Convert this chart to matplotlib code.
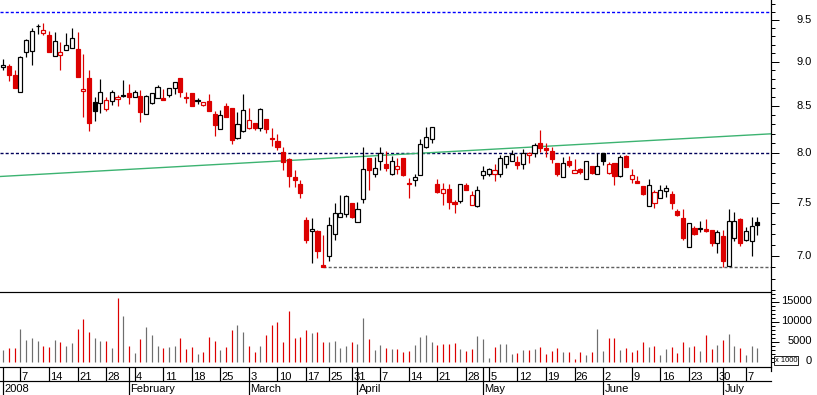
import numpy as np
import pandas as pd
import matplotlib
matplotlib.use("Agg")
import matplotlib.pyplot as plt
from matplotlib.ticker import FixedLocator, NullFormatter
from matplotlib.transforms import blended_transform_factory

plt.rcParams['font.family'] = ['Liberation Sans', 'DejaVu Sans']
plt.rcParams['lines.scale_dashes'] = False

# ---------------- data ----------------
start_date = '2008-01-02'
end_date = '2008-07-09'
holidays = ['2008-03-21', '2008-03-24', '2008-05-01']

opens = [8.94, 8.95, 8.85, 8.66, 9.12, 9.13, 9.43, 9.34, 9.32, 9.065,
         9.08, 9.135, 9.16, 9.15, 8.665, 8.81, 8.54, 8.53, 8.465, 8.55,
         8.575, 8.62, 8.64, 8.60, 8.61, 8.41, 8.53, 8.585, 8.59, 8.625,
         8.70, 8.81, 8.605, 8.645, 8.56, 8.51, 8.555, 8.41, 8.255, 8.50,
         8.475, 8.155, 8.225, 8.265, 8.315, 8.26, 8.36, 8.16, 8.12, 8.005,
         7.94, 7.75, 7.685, 7.335, 7.23, 7.235, 6.92, 7.00, 7.20, 7.36,
         7.39, 7.50, 7.32, 7.535, 7.95, 7.785, 7.92, 7.885, 7.785, 7.84,
         7.95, 7.70, 7.72, 7.77, 8.065, 8.145, 7.69, 7.595, 7.64, 7.51,
         7.52, 7.68, 7.475, 7.465, 7.78, 7.79, 7.79, 7.79, 7.885, 7.92,
         7.905, 7.885, 7.975, 8.00, 8.10, 8.05, 8.015, 7.90, 7.75, 7.915,
         7.80, 7.835, 7.73, 7.865, 7.785, 8.00, 7.80, 7.90, 7.76, 7.97,
         7.73, 7.71, 7.665, 7.47, 7.495, 7.545, 7.62, 7.585, 7.42, 7.355,
         7.08, 7.26, 7.255, 7.25, 7.24, 7.125, 7.185, 6.915, 7.165, 7.345,
         7.145, 7.14, 7.315]
highs = [9.03, 8.98, 8.91, 9.07, 9.27, 9.40, 9.45, 9.46, 9.36, 9.355,
         9.23, 9.34, 9.40, 9.35, 9.09, 8.90, 8.60, 8.80, 8.60, 8.68,
         8.62, 8.79, 8.75, 8.68, 8.68, 8.62, 8.64, 8.735, 8.69, 8.70,
         8.765, 8.815, 8.65, 8.645, 8.585, 8.545, 8.63, 8.44, 8.455, 8.53,
         8.475, 8.435, 8.63, 8.475, 8.315, 8.475, 8.36, 8.26, 8.20, 8.06,
         7.945, 7.825, 7.725, 7.36, 7.35, 7.24, 7.195, 7.36, 7.495, 7.575,
         7.58, 7.50, 7.51, 8.06, 7.95, 7.955, 8.06, 8.02, 7.97, 7.945,
         7.95, 7.74, 7.785, 8.15, 8.275, 8.275, 7.73, 7.70, 7.685, 7.53,
         7.69, 7.70, 7.615, 7.665, 7.865, 7.845, 7.885, 7.98, 7.97, 8.03,
         7.97, 8.04, 8.01, 8.10, 8.24, 8.10, 8.065, 7.90, 7.955, 7.97,
         7.94, 7.845, 7.92, 7.865, 8.00, 8.00, 7.91, 7.90, 7.98, 7.98,
         7.84, 7.76, 7.665, 7.73, 7.625, 7.675, 7.68, 7.615, 7.445, 7.44,
         7.31, 7.28, 7.325, 7.345, 7.24, 7.24, 7.24, 7.44, 7.415, 7.35,
         7.27, 7.36, 7.36]
lows = [8.90, 8.78, 8.70, 8.65, 9.06, 8.96, 9.33, 9.32, 9.12, 9.065,
        8.90, 9.135, 9.16, 8.82, 8.385, 8.235, 8.34, 8.42, 8.44, 8.51,
        8.50, 8.60, 8.52, 8.595, 8.33, 8.41, 8.52, 8.585, 8.565, 8.60,
        8.635, 8.60, 8.53, 8.50, 8.52, 8.505, 8.45, 8.18, 8.255, 8.385,
        8.09, 8.15, 8.22, 8.25, 8.24, 8.23, 8.205, 8.075, 8.03, 7.825,
        7.66, 7.66, 7.55, 7.125, 6.94, 6.98, 6.90, 6.96, 7.145, 7.36,
        7.36, 7.355, 7.32, 7.50, 7.625, 7.75, 7.825, 7.82, 7.78, 7.785,
        7.765, 7.55, 7.67, 7.77, 8.05, 8.10, 7.595, 7.48, 7.445, 7.405,
        7.50, 7.625, 7.475, 7.46, 7.73, 7.76, 7.71, 7.75, 7.85, 7.92,
        7.835, 7.84, 7.90, 7.96, 8.01, 7.96, 7.90, 7.76, 7.75, 7.86,
        7.80, 7.79, 7.73, 7.79, 7.785, 7.875, 7.785, 7.68, 7.75, 7.86,
        7.70, 7.70, 7.58, 7.47, 7.455, 7.545, 7.555, 7.445, 7.375, 7.15,
        7.08, 7.195, 7.225, 7.225, 7.09, 7.025, 6.905, 6.915, 7.135, 7.09,
        7.135, 7.005, 7.195]
closes = [8.96, 8.85, 8.70, 9.06, 9.26, 9.37, 9.42, 9.375, 9.12, 9.24,
          9.11, 9.195, 9.28, 8.82, 8.685, 8.32, 8.45, 8.65, 8.565, 8.65,
          8.60, 8.61, 8.60, 8.65, 8.43, 8.61, 8.64, 8.71, 8.57, 8.695,
          8.765, 8.65, 8.59, 8.505, 8.57, 8.545, 8.45, 8.295, 8.40, 8.385,
          8.13, 8.305, 8.455, 8.35, 8.26, 8.47, 8.25, 8.145, 8.065, 7.905,
          7.765, 7.725, 7.595, 7.145, 7.25, 7.05, 6.90, 7.285, 7.40, 7.405,
          7.565, 7.36, 7.445, 7.84, 7.83, 7.845, 8.00, 7.85, 7.915, 7.865,
          7.77, 7.685, 7.75, 8.09, 8.17, 8.27, 7.61, 7.635, 7.51, 7.485,
          7.69, 7.625, 7.575, 7.63, 7.82, 7.84, 7.83, 7.95, 7.97, 7.985,
          7.875, 8.00, 7.995, 8.085, 8.055, 8.03, 7.94, 7.79, 7.90, 7.875,
          7.825, 7.81, 7.915, 7.80, 7.865, 7.92, 7.885, 7.76, 7.96, 7.86,
          7.78, 7.70, 7.585, 7.68, 7.605, 7.625, 7.645, 7.50, 7.385, 7.17,
          7.305, 7.20, 7.265, 7.235, 7.12, 7.22, 6.96, 7.325, 7.33, 7.12,
          7.235, 7.28, 7.285]
# volume in thousands
volumes = [2800, 3300, 3300, 8100, 5300, 5800, 5200, 3800, 3600, 5300,
           4800, 3800, 4600, 8100, 10600, 7400, 5800, 5200, 5100, 3300,
           15800, 11300, 3800, 2100, 5600, 8600, 6600, 3800, 3300, 3600,
           3800, 5800, 3100, 3600, 1800, 2500, 6100, 5100, 2800, 3600,
           7800, 9100, 7400, 3800, 2300, 3800, 6600, 9100, 9800, 4800,
           12600, 5800, 6100, 7800, 7100, 7400, 4800, 4800, 5100, 3300,
           3800, 4800, 4300, 10800, 5600, 2800, 4100, 3300, 3100, 3100,
           2300, 2600, 4100, 6100, 6600, 4800, 4100, 4300, 4300, 4600,
           3100, 2600, 3100, 6300, 5600, 800, 3600, 4300, 4300, 1800,
           2100, 2800, 2800, 3100, 3600, 1800, 2600, 3300, 2300, 2300,
           600, 2300, 1600, 2300, 8100, 2600, 5800, 5800, 2800, 3300,
           2300, 2800, 4800, 3600, 3800, 1600, 3100, 3600, 2100, 4800,
           3600, 3800, 2600, 6600, 3100, 4100, 5300, 6800, 3800, 3300,
           1600, 3800, 3300]
# 1 = closed below previous close (red), 0 = otherwise
down_day = [0, 1, 1, 0, 0, 0, 0, 1, 1, 0, 1, 0, 0, 1, 1, 1, 0, 0, 1, 0,
            1, 0, 1, 0, 1, 0, 0, 0, 1, 0, 0, 1, 1, 1, 0, 1, 1, 1, 0, 1,
            1, 0, 0, 1, 1, 0, 1, 1, 1, 1, 1, 1, 1, 1, 0, 1, 1, 0, 0, 0,
            0, 1, 0, 0, 1, 0, 0, 1, 0, 1, 1, 1, 0, 0, 0, 0, 1, 1, 1, 1,
            0, 1, 1, 0, 0, 0, 1, 0, 0, 0, 1, 0, 1, 0, 1, 1, 1, 1, 0, 1,
            1, 1, 0, 1, 0, 0, 1, 1, 0, 1, 1, 1, 1, 0, 1, 0, 0, 1, 1, 1,
            0, 1, 0, 1, 1, 0, 1, 0, 0, 1, 0, 0, 0]

resistance_level = 9.60
reference_level = 8.00
support_level = 6.90
trend_start, trend_end = 7.76, 8.20

price_ticks = [7.0, 7.5, 8.0, 8.5, 9.0, 9.5]
price_labels = ['7.0', '7.5', '8.0', '8.5', '9.0', '9.5']
vol_ticks = [0, 5000, 10000, 15000]
vol_labels = ['0', '5000', '10000', '15000']
month_names = ['2008', 'February', 'March', 'April', 'May', 'June', 'July']

# ---------------- derived ----------------
dates = pd.bdate_range(start_date, end_date, freq='C', holidays=holidays)
n = len(opens)
dates = dates[:n]
x = np.arange(n)
o = np.array(opens); h = np.array(highs); l = np.array(lows); c = np.array(closes)
down = np.array(down_day, dtype=bool)

RED = '#dc0000'
GREY = '#6e6e6e'
PX = 0.72  # one pixel in points
LW = PX * 1.2

W, H = 817, 395
fig = plt.figure(figsize=(W / 100, H / 100), dpi=100)
right = 771 / W
ax_d = fig.add_axes([0, 0, right, 28 / H])
ax_v = fig.add_axes([0, (H - 367) / H, right, 75 / H])
ax_p = fig.add_axes([0, (H - 292) / H, right, 292 / H])
for a in (ax_d, ax_v, ax_p):
    a.patch.set_visible(False)

xlim = (-0.578, 134.4)

# ---- price panel ----
ax_p.set_yscale('log')
ax_p.set_xlim(*xlim)
ax_p.set_ylim(6.684, 9.748)

ax_p.axhline(resistance_level, color='#0000ff', lw=1.0, dashes=(2.2, 1.5), zorder=1)
ax_p.axhline(reference_level, color='#00005a', lw=1.0, dashes=(2.2, 1.5), zorder=1)
low_idx = int(np.argmin(l))
ax_p.hlines(support_level, low_idx, xlim[1], color='#606060', lw=1.0,
            linestyles=(0, (2.2, 1.5)), zorder=1)
ax_p.plot([xlim[0], xlim[1]], [trend_start, trend_end], color='#3cb371', lw=1.0, zorder=1)

cols = np.where(down, RED, 'black')
ax_p.vlines(x, l, h, colors=cols, lw=LW, zorder=2)
bottoms = np.minimum(o, c)
heights = np.maximum(np.abs(c - o), 0.004)
faces = [cc if cl < op else 'white' for cc, cl, op in zip(cols, c, o)]
ax_p.bar(x, heights, bottom=bottoms, width=0.72, color=faces, edgecolor=cols,
         linewidth=LW, zorder=3)

ax_p.set_xticks([])
ax_p.yaxis.set_major_locator(FixedLocator(price_ticks))
ax_p.yaxis.set_minor_locator(FixedLocator(np.round(np.arange(6.7, 9.75, 0.1), 1)))
ax_p.yaxis.set_major_formatter(NullFormatter())
ax_p.yaxis.set_minor_formatter(NullFormatter())
ax_p.yaxis.tick_right()
ax_p.tick_params(axis='y', which='major', length=8 * PX, width=PX, direction='out')
ax_p.tick_params(axis='y', which='minor', length=4 * PX, width=PX, direction='out')
for s in ['left', 'top']:
    ax_p.spines[s].set_visible(False)
for s in ['right', 'bottom']:
    ax_p.spines[s].set_linewidth(LW)
    ax_p.spines[s].set_zorder(10)

tp = blended_transform_factory(fig.transFigure, ax_p.transData)
for v, lab in zip(price_ticks, price_labels):
    fig.text(812 / W, v, lab, transform=tp, ha='right', va='center', fontsize=8.0)

# ---- volume panel ----
ax_v.set_xlim(*xlim)
ax_v.set_ylim(-1375, 17375)
vcols = np.where(down, RED, GREY)
ax_v.vlines(x, 0, volumes, colors=vcols, lw=LW)
ax_v.set_xticks([])
ax_v.yaxis.set_major_locator(FixedLocator(vol_ticks))
ax_v.yaxis.set_minor_locator(FixedLocator([v for v in range(1000, 18000, 1000) if v % 5000]))
ax_v.yaxis.set_major_formatter(NullFormatter())
ax_v.yaxis.set_minor_formatter(NullFormatter())
ax_v.yaxis.tick_right()
ax_v.tick_params(axis='y', which='major', length=8 * PX, width=PX, direction='out')
ax_v.tick_params(axis='y', which='minor', length=4 * PX, width=PX, direction='out')
for s in ['left', 'top']:
    ax_v.spines[s].set_visible(False)
for s in ['right', 'bottom']:
    ax_v.spines[s].set_linewidth(LW)
ax_v.spines['right'].set_bounds(-2250, 17375)
tv = blended_transform_factory(fig.transFigure, ax_v.transData)
for v, lab in zip(vol_ticks, vol_labels):
    fig.text(812 / W, v, lab, transform=tv, ha='right', va='center', fontsize=8.0)
fig.text(786 / W, 1 - 360.7 / H, 'x 1000', ha='center', va='center', fontsize=5.4,
         bbox=dict(boxstyle='square,pad=0.15', fc='white', ec='black', lw=0.6))

# ---- date rows ----
ax_d.set_xlim(*xlim)
ax_d.set_ylim(0, 28)
ax_d.axis('off')
mid = 13.7
ax_d.plot([xlim[0], xlim[1]], [mid, mid], color='black', lw=LW, clip_on=False)

s_dates = pd.Series(dates)
iso = s_dates.dt.isocalendar()
week_key = iso['year'].astype(str) + '-' + iso['week'].astype(str)
week_start = (~week_key.duplicated()).values
month_start = (~s_dates.dt.month.duplicated()).values

week_idx = x[week_start]
month_idx = x[month_start]
ax_d.vlines(np.union1d(week_idx, month_idx), mid, 28, colors='black', lw=LW)
ax_d.vlines(month_idx, 0, mid, colors='black', lw=LW)
for i in week_idx[1:]:
    ax_d.text(i + 0.25, 15.3, str(dates[i].day), ha='left', va='baseline', fontsize=8.0)
for i, name in zip(month_idx, month_names):
    ax_d.text(i + 0.25, 3.3, name, ha='left', va='baseline', fontsize=8.0)

fig.savefig('out.png', dpi=100)
